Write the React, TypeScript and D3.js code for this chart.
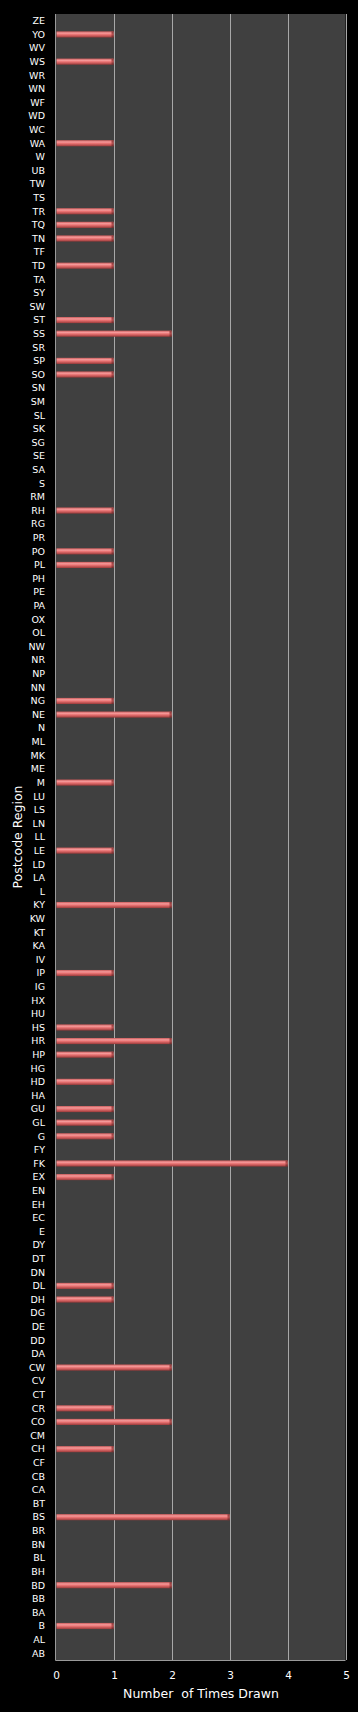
import React from "react";
import * as d3 from "d3";

// Categories listed top-to-bottom as shown
const regions: string[] = [
  "ZE","YO","WV","WS","WR","WN","WF","WD","WC","WA","W","UB","TW","TS","TR","TQ","TN","TF","TD","TA",
  "SY","SW","ST","SS","SR","SP","SO","SN","SM","SL","SK","SG","SE","SA","S","RM","RH","RG","PR","PO",
  "PL","PH","PE","PA","OX","OL","NW","NR","NP","NN","NG","NE","N","ML","MK","ME","M","LU","LS","LN",
  "LL","LE","LD","LA","L","KY","KW","KT","KA","IV","IP","IG","HX","HU","HS","HR","HP","HG","HD","HA",
  "GU","GL","G","FY","FK","EX","EN","EH","EC","E","DY","DT","DN","DL","DH","DG","DE","DD","DA","CW",
  "CV","CT","CR","CO","CM","CH","CF","CB","CA","BT","BS","BR","BN","BL","BH","BD","BB","BA","B","AL","AB"
];

const drawnRegions: string[] = [
  "YO","WS","WA","TR","TQ","TN","TD","ST","SS","SP","SO","RH","PO","PL","NG","NE","M","LE","KY","IP",
  "HS","HR","HP","HD","GU","GL","G","FK","EX","DL","DH","CW","CR","CO","CH","BS","BD","B"
];
const drawnCounts: number[] = [
  1,1,1,1,1,1,1,1,2,1,1,1,1,1,1,2,1,1,2,1,
  1,2,1,1,1,1,1,4,1,1,1,2,1,2,1,3,2,1
];

const xTicks: number[] = [0, 1, 2, 3, 4, 5];

const W = 358;
const H = 1712;
const margin = { left: 55.5, right: 12.5, top: 14, bottom: 52 };

export default function App() {
  const countMap = new Map<string, number>();
  drawnRegions.forEach((r, i) => countMap.set(r, drawnCounts[i]));

  const x = d3.scaleLinear().domain([0, 5]).range([margin.left, W - margin.right]);
  const y = d3
    .scaleBand<string>()
    .domain(regions)
    .range([margin.top, H - margin.bottom])
    .paddingInner(0.55)
    .paddingOuter(0.275);
  const plotTop = margin.top;
  const plotBottom = H - margin.bottom;
  const font = "Verdana, 'DejaVu Sans', sans-serif";

  return (
    <div style={{ position: "absolute", left: 0, top: 0, width: W, height: H, background: "#000" }}>
      <svg width={W} height={H} style={{ display: "block" }}>
        <defs>
          <linearGradient id="barGrad" x1="0" y1="0" x2="0" y2="1">
            <stop offset="0" stopColor="#c85a5a" />
            <stop offset="0.3" stopColor="#f59a9a" />
            <stop offset="0.55" stopColor="#e77070" />
            <stop offset="1" stopColor="#9a3a3a" />
          </linearGradient>
          <linearGradient id="capGrad" x1="0" y1="0" x2="0" y2="1">
            <stop offset="0" stopColor="#8a3a3a" />
            <stop offset="0.5" stopColor="#b85050" />
            <stop offset="1" stopColor="#6a2a2a" />
          </linearGradient>
        </defs>
        <rect x={0} y={0} width={W} height={H} fill="#000" />
        <rect
          x={x(0)}
          y={plotTop}
          width={x(5) - x(0)}
          height={plotBottom - plotTop}
          fill="#404040"
        />
        {xTicks.slice(1).map((t) => (
          <line
            key={"g" + t}
            x1={Math.round(x(t)) + 0.5}
            x2={Math.round(x(t)) + 0.5}
            y1={plotTop}
            y2={plotBottom}
            stroke="#a8a8a8"
            strokeWidth={1}
          />
        ))}
        <line x1={x(0)} x2={x(0)} y1={plotTop} y2={plotBottom + 0.5} stroke="#9a9a9a" strokeWidth={1} />
        <line x1={x(0)} x2={x(5)} y1={plotBottom + 0.5} y2={plotBottom + 0.5} stroke="#9a9a9a" strokeWidth={1} />

        {regions.map((r) => {
          const v = countMap.get(r) || 0;
          if (!v) return null;
          const y0 = y(r)!;
          const bh = y.bandwidth();
          const x0 = x(0) + 1;
          const x1 = x(v);
          return (
            <g key={"b" + r}>
              <rect x={x0} y={y0} width={x1 - x0} height={bh} fill="url(#barGrad)" />
              <rect x={x1 - 2} y={y0} width={2} height={bh} fill="url(#capGrad)" />
            </g>
          );
        })}

        {regions.map((r) => (
          <text
            key={"l" + r}
            x={45}
            y={y(r)! + y.bandwidth() / 2}
            dy="0.35em"
            textAnchor="end"
            fill="#fff"
            fontFamily={font}
            fontSize={9.5}
          >
            {r}
          </text>
        ))}

        {xTicks.map((t) => (
          <text
            key={"t" + t}
            x={x(t) + 1}
            y={1675}
            dy="0.35em"
            textAnchor="middle"
            fill="#fff"
            fontFamily={font}
            fontSize={10.5}
          >
            {t}
          </text>
        ))}

        <text
          x={201}
          y={1694}
          dy="0.35em"
          textAnchor="middle"
          fill="#fff"
          fontFamily={font}
          fontSize={12.5}
          style={{ whiteSpace: "pre" }}
        >
          {"Number  of Times Drawn"}
        </text>

        <text
          transform={`translate(18, ${(plotTop + plotBottom) / 2}) rotate(-90)`}
          dy="0.35em"
          textAnchor="middle"
          fill="#fff"
          fontFamily={font}
          fontSize={12.5}
        >
          Postcode Region
        </text>
      </svg>
    </div>
  );
}
